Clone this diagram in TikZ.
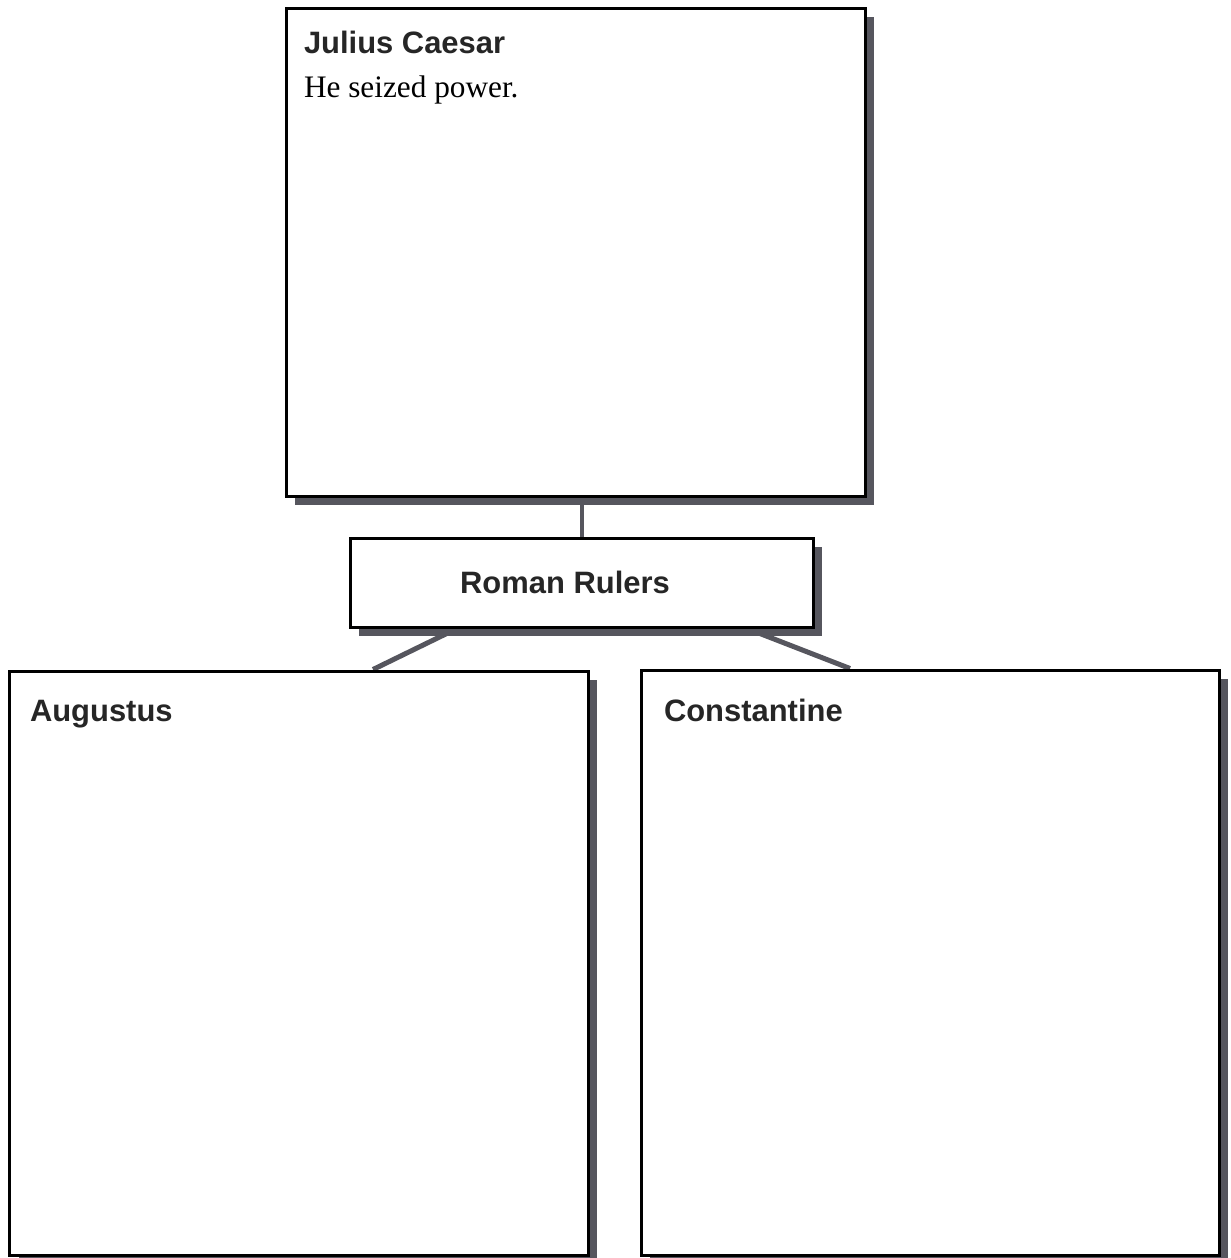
\documentclass[tikz,border=0pt]{standalone}
\usepackage{fontspec}
\setmainfont{Liberation Serif}
\setsansfont{Liberation Sans}
\usepackage{tikz}
\usetikzlibrary{shadows}
\usetikzlibrary{backgrounds}
\definecolor{shadowgray}{RGB}{86,86,94}

\begin{document}
\begin{tikzpicture}[line width=0.06cm,
                    box/.style={rectangle,draw,fill=white,inner sep=0pt,
                        drop shadow={shadow xshift=0.18cm,shadow yshift=-0.18cm,
                                     fill=shadowgray,opacity=1}},
                    head/.style={font=\sffamily\bfseries\fontsize{17.6}{20}\selectfont,
                                 text=black!85,inner sep=0pt},
                    body/.style={font=\fontsize{17.8}{20}\selectfont,inner sep=0pt},
                    link/.style={draw=shadowgray,line width=0.1cm}
                    %ruler/.style={rectangle, draw, minimum width=9cm}
                    ]
  \useasboundingbox (0,0) rectangle (24.62,-25.16);
  \node[box,minimum width=11.58cm,minimum height=9.76cm] (caesar) at (11.51,-5.04) {};
  \node[box,minimum width=9.26cm,minimum height=1.78cm] (rulers) at (11.63,-11.65) {};
  \node[box,minimum width=11.56cm,minimum height=11.68cm] (augustus) at (5.98,-19.26) {};
  \node[box,minimum width=11.56cm,minimum height=11.7cm] (constantine) at (18.6,-19.25) {};
  \node[head,anchor=base west,xshift=0.36cm,yshift=-0.94cm] (caesarhead) at (caesar.north west) {Julius Caesar};
  \node[body,anchor=base west,xshift=0.36cm,yshift=-1.82cm] (caesartext) at (caesar.north west) {He seized power.};
  \node[head,xshift=-0.33cm] (rulershead) at (rulers) {Roman Rulers};
  \node[head,anchor=base west,xshift=0.4cm,yshift=-1.04cm] (augustushead) at (augustus.north west) {Augustus};
  \node[head,anchor=base west,xshift=0.46cm,yshift=-1.06cm] (constantinehead) at (constantine.north west) {Constantine};
  \begin{scope}[on background layer]
    \draw [link,line width=0.08cm] (rulers.north) -- (rulers.north |- caesar.south);
    \draw [link] ([xshift=-2.49cm]rulers.south) -- ([xshift=1.48cm]augustus.north);
    \draw [link] ([xshift=3.31cm]rulers.south) -- ([xshift=-1.6cm]constantine.north);
  \end{scope}
\end{tikzpicture}
\end{document}
